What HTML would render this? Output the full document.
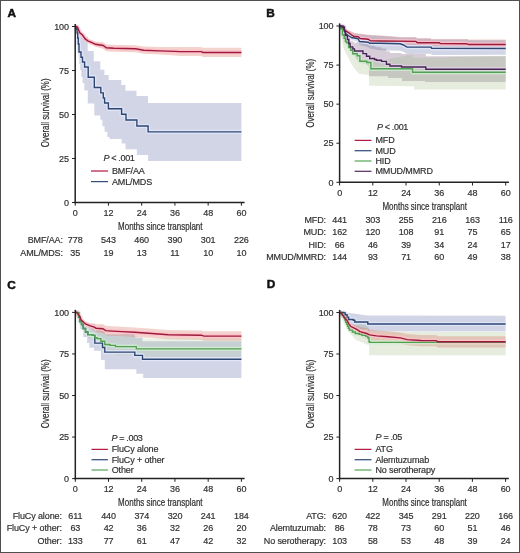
<!DOCTYPE html>
<html><head><meta charset="utf-8"><style>
html,body{margin:0;padding:0;background:#fff;}
body{width:520px;height:553px;overflow:hidden;}
svg{display:block;will-change:transform;}
.t{font-family:"Liberation Sans", sans-serif;font-size:9px;fill:#303030;letter-spacing:-0.12px;stroke:#303030;stroke-width:0.18px;}
.tt{font-family:"Liberation Sans", sans-serif;font-size:10.4px;fill:#303030;stroke:#303030;stroke-width:0.22px;}
.L{font-family:"Liberation Sans", sans-serif;font-size:11.8px;font-weight:bold;fill:#111;stroke:#111;stroke-width:0.5px;}
</style></head><body>
<svg width="520" height="553" viewBox="0 0 520 553">
<rect x="0" y="0" width="520" height="553" fill="#fff"/>
<path d="M75.20,26.50 L78.50,26.50 L78.50,31.00 L81.70,31.00 L81.70,36.50 L87.70,36.50 L87.70,51.00 L93.80,51.00 L93.80,61.20 L100.30,61.20 L100.30,69.80 L104.40,69.80 L104.40,74.90 L108.70,74.90 L108.70,80.00 L121.30,80.00 L121.30,85.00 L125.50,85.00 L125.50,90.80 L136.50,90.80 L136.50,95.90 L148.00,95.90 L148.00,103.00 L241.40,103.00 L241.40,161.00 L148.10,161.00 L148.10,155.00 L136.90,155.00 L136.90,149.30 L125.50,149.30 L125.50,143.50 L121.70,143.50 L121.70,139.00 L109.50,139.00 L109.50,137.10 L107.30,137.10 L107.30,131.70 L104.60,131.70 L104.60,126.30 L102.40,126.30 L102.40,119.80 L100.30,119.80 L100.30,115.50 L94.30,115.50 L94.30,103.50 L87.80,103.50 L87.80,90.50 L84.30,90.50 L84.30,83.00 L82.50,83.00 L82.50,77.00 L81.30,77.00 L81.30,70.00 L80.20,70.00 L80.20,64.00 L79.30,64.00 L79.30,58.00 L78.50,58.00 L78.50,51.00 L77.80,51.00 L77.80,44.00 L77.00,44.00 L77.00,36.00 L76.30,36.00 L76.30,26.50 L75.20,26.50Z" fill="rgba(105,115,170,0.30)"/>
<path d="M75.20,26.50 L77.50,27.16 L79.80,32.32 L82.50,34.12 L85.20,37.62 L87.80,39.13 L92.50,40.57 L95.50,41.79 L103.20,42.27 L106.30,44.39 L114.00,44.73 L135.60,45.16 L143.60,46.50 L159.80,47.08 L175.00,46.92 L180.00,46.99 L201.50,46.92 L202.90,47.82 L241.40,47.70 L241.40,57.00 L202.90,56.88 L201.50,55.98 L180.00,55.91 L175.00,55.58 L159.80,54.47 L143.60,53.72 L135.60,52.29 L114.00,51.63 L106.30,51.20 L103.20,48.73 L95.50,46.81 L92.50,45.03 L87.80,42.47 L85.20,40.18 L82.50,35.88 L79.80,33.28 L77.50,27.64 L75.20,26.50Z" fill="rgba(215,110,90,0.30)"/>
<path d="M75.20,26.50 L76.50,26.50 L76.50,29.00 L77.10,29.00 L77.10,33.00 L77.70,33.00 L77.70,38.00 L78.30,38.00 L78.30,44.00 L79.00,44.00 L79.00,52.00 L81.00,52.00 L81.00,57.30 L82.50,57.30 L82.50,62.00 L84.60,62.00 L84.60,67.00 L88.20,67.00 L88.20,77.20 L94.30,77.20 L94.30,87.50 L100.80,87.50 L100.80,92.90 L103.30,92.90 L103.30,98.00 L104.60,98.00 L104.60,103.00 L108.40,103.00 L108.40,108.80 L121.60,108.80 L121.60,114.30 L126.00,114.30 L126.00,120.00 L136.90,120.00 L136.90,126.00 L148.10,126.00 L148.10,131.90 L241.40,131.90" fill="none" stroke="rgba(226,233,252,0.8)" stroke-width="4.2" stroke-linejoin="round"/><path d="M75.20,26.50 L77.50,27.40 L79.80,32.80 L82.50,35.00 L85.20,38.90 L87.80,40.80 L92.50,42.80 L95.50,44.30 L103.20,45.50 L106.30,47.80 L114.00,48.20 L135.60,48.80 L143.60,50.20 L159.80,50.90 L175.00,51.40 L180.00,51.60 L201.50,51.60 L202.90,52.50 L241.40,52.50" fill="none" stroke="rgba(255,192,202,0.85)" stroke-width="4.2" stroke-linejoin="round"/><path d="M75.20,26.50 L76.50,26.50 L76.50,29.00 L77.10,29.00 L77.10,33.00 L77.70,33.00 L77.70,38.00 L78.30,38.00 L78.30,44.00 L79.00,44.00 L79.00,52.00 L81.00,52.00 L81.00,57.30 L82.50,57.30 L82.50,62.00 L84.60,62.00 L84.60,67.00 L88.20,67.00 L88.20,77.20 L94.30,77.20 L94.30,87.50 L100.80,87.50 L100.80,92.90 L103.30,92.90 L103.30,98.00 L104.60,98.00 L104.60,103.00 L108.40,103.00 L108.40,108.80 L121.60,108.80 L121.60,114.30 L126.00,114.30 L126.00,120.00 L136.90,120.00 L136.90,126.00 L148.10,126.00 L148.10,131.90 L241.40,131.90" fill="none" stroke="#2f4670" stroke-width="1.4"/><path d="M75.20,26.50 L77.50,27.40 L79.80,32.80 L82.50,35.00 L85.20,38.90 L87.80,40.80 L92.50,42.80 L95.50,44.30 L103.20,45.50 L106.30,47.80 L114.00,48.20 L135.60,48.80 L143.60,50.20 L159.80,50.90 L175.00,51.40 L180.00,51.60 L201.50,51.60 L202.90,52.50 L241.40,52.50" fill="none" stroke="#9c1a3a" stroke-width="1.4"/>
<path d="M339.60,26.00 L343.00,24.30 L343.00,25.30 L344.40,24.60 L344.40,29.00 L345.40,28.50 L345.40,32.60 L347.40,31.60 L347.40,35.60 L348.80,34.90 L348.80,38.90 L350.10,38.25 L350.10,41.65 L352.80,40.30 L352.80,42.30 L354.50,41.45 L354.50,43.55 L363.00,39.30 L363.00,41.90 L366.50,40.60 L366.50,43.30 L369.70,43.30 L369.70,45.50 L374.50,45.50 L374.50,46.50 L376.50,46.50 L376.50,47.20 L381.50,47.20 L381.50,48.40 L386.40,48.40 L386.40,51.20 L389.90,51.20 L389.90,53.00 L401.50,53.00 L401.50,54.00 L425.80,54.00 L425.80,56.20 L505.70,56.20 L505.70,81.90 L425.00,81.90 L425.00,81.00 L402.00,81.00 L402.00,78.00 L388.00,78.00 L388.00,76.20 L369.00,76.20 L369.00,66.50 L366.00,64.00 L359.00,62.50 L355.00,56.50 L352.00,53.00 L349.00,48.50 L346.00,42.00 L343.00,34.00 L339.60,26.00Z" fill="rgba(121,89,127,0.30)"/>
<path d="M339.60,26.00 L340.70,25.84 L340.70,28.54 L342.40,28.30 L342.40,34.40 L344.10,34.15 L344.10,37.55 L345.40,37.36 L345.40,40.66 L346.70,40.48 L346.70,41.88 L348.80,41.57 L348.80,46.27 L350.80,46.06 L350.80,48.76 L352.80,48.65 L352.80,52.15 L357.20,51.92 L357.20,53.82 L359.90,53.68 L359.90,59.28 L366.80,58.92 L366.80,60.12 L370.90,55.88 L370.90,62.18 L412.60,54.50 L412.60,58.00 L505.70,55.80 L505.70,89.50 L414.00,89.50 L414.00,86.30 L369.10,85.80 L369.10,75.00 L358.80,73.80 L353.90,67.80 L350.30,61.70 L347.60,56.30 L344.30,50.50 L342.60,44.00 L341.20,36.00 L339.60,26.00Z" fill="rgba(150,178,122,0.24)"/>
<path d="M339.60,26.00 L343.00,27.00 L348.00,30.00 L355.00,33.00 L369.00,34.70 L390.00,36.00 L400.00,36.90 L416.50,36.90 L416.50,38.10 L431.00,38.10 L431.00,39.00 L468.00,39.00 L468.00,39.60 L505.70,39.60 L505.70,48.80 L468.30,48.56 L466.20,47.75 L440.40,47.48 L439.20,46.68 L417.30,46.44 L416.00,45.13 L380.00,44.50 L370.30,43.46 L368.30,41.69 L360.20,40.28 L358.20,38.41 L354.20,37.76 L351.50,35.83 L348.80,33.60 L345.40,31.20 L343.40,28.03 L339.60,26.00Z" fill="rgba(215,110,90,0.30)"/>
<path d="M339.60,26.60 L343.00,27.60 L348.00,30.60 L355.00,33.60 L369.00,35.30 L390.00,36.60 L400.00,37.50 L416.50,37.50 L416.50,38.70 L431.00,38.70 L431.00,39.60 L468.00,39.60 L468.00,40.20 L505.70,40.20 L505.70,54.70 L431.70,55.07 L431.10,53.77 L407.00,53.93 L403.50,51.85 L400.00,50.67 L380.00,50.30 L369.60,48.40 L368.30,47.17 L359.50,44.95 L358.20,42.02 L355.50,40.95 L351.50,39.56 L348.10,36.97 L345.40,34.40 L344.40,31.53 L343.00,27.59 L339.60,26.00Z" fill="rgba(105,115,170,0.30)"/>
<path d="M339.60,26.00 L340.70,26.00 L340.70,28.70 L342.40,28.70 L342.40,34.80 L344.10,34.80 L344.10,38.20 L345.40,38.20 L345.40,41.50 L346.70,41.50 L346.70,42.90 L348.80,42.90 L348.80,47.60 L350.80,47.60 L350.80,50.30 L352.80,50.30 L352.80,53.80 L357.20,53.80 L357.20,55.70 L359.90,55.70 L359.90,61.30 L366.80,61.30 L366.80,62.50 L370.90,62.50 L370.90,68.80 L412.60,68.80 L412.60,72.30 L505.70,72.30" fill="none" stroke="rgba(210,238,210,0.75)" stroke-width="4.2" stroke-linejoin="round"/><path d="M339.60,26.00 L343.40,27.70 L345.40,30.70 L348.80,32.80 L351.50,34.80 L354.20,36.50 L358.20,36.80 L360.20,38.50 L368.30,39.20 L370.30,40.80 L380.00,41.00 L416.00,41.40 L417.30,42.70 L439.20,42.80 L440.40,43.60 L466.20,43.70 L468.30,44.50 L505.70,44.50" fill="none" stroke="rgba(255,192,202,0.85)" stroke-width="4.2" stroke-linejoin="round"/><path d="M339.60,26.00 L343.00,27.00 L344.40,30.70 L345.40,33.40 L348.10,35.50 L351.50,37.50 L355.50,38.20 L358.20,38.80 L359.50,41.50 L368.30,42.20 L369.60,43.20 L380.00,43.30 L400.00,43.80 L403.50,45.00 L407.00,47.10 L431.10,47.10 L431.70,48.40 L505.70,48.50" fill="none" stroke="rgba(226,233,252,0.8)" stroke-width="4.2" stroke-linejoin="round"/><path d="M339.60,26.00 L343.00,26.00 L343.00,27.00 L344.40,27.00 L344.40,31.40 L345.40,31.40 L345.40,35.50 L347.40,35.50 L347.40,39.50 L348.80,39.50 L348.80,43.50 L350.10,43.50 L350.10,46.90 L352.80,46.90 L352.80,48.90 L354.50,48.90 L354.50,51.00 L363.00,51.00 L363.00,53.60 L366.50,53.60 L366.50,56.30 L369.70,56.30 L369.70,58.50 L374.50,58.50 L374.50,59.50 L376.50,59.50 L376.50,60.20 L381.50,60.20 L381.50,61.40 L386.40,61.40 L386.40,64.20 L389.90,64.20 L389.90,66.00 L401.50,66.00 L401.50,67.00 L425.80,67.00 L425.80,69.20 L505.70,69.20" fill="none" stroke="rgba(228,210,236,0.75)" stroke-width="4.2" stroke-linejoin="round"/><path d="M339.60,26.00 L340.70,26.00 L340.70,28.70 L342.40,28.70 L342.40,34.80 L344.10,34.80 L344.10,38.20 L345.40,38.20 L345.40,41.50 L346.70,41.50 L346.70,42.90 L348.80,42.90 L348.80,47.60 L350.80,47.60 L350.80,50.30 L352.80,50.30 L352.80,53.80 L357.20,53.80 L357.20,55.70 L359.90,55.70 L359.90,61.30 L366.80,61.30 L366.80,62.50 L370.90,62.50 L370.90,68.80 L412.60,68.80 L412.60,72.30 L505.70,72.30" fill="none" stroke="#52a052" stroke-width="1.4"/><path d="M339.60,26.00 L343.40,27.70 L345.40,30.70 L348.80,32.80 L351.50,34.80 L354.20,36.50 L358.20,36.80 L360.20,38.50 L368.30,39.20 L370.30,40.80 L380.00,41.00 L416.00,41.40 L417.30,42.70 L439.20,42.80 L440.40,43.60 L466.20,43.70 L468.30,44.50 L505.70,44.50" fill="none" stroke="#9c1a3a" stroke-width="1.4"/><path d="M339.60,26.00 L343.00,27.00 L344.40,30.70 L345.40,33.40 L348.10,35.50 L351.50,37.50 L355.50,38.20 L358.20,38.80 L359.50,41.50 L368.30,42.20 L369.60,43.20 L380.00,43.30 L400.00,43.80 L403.50,45.00 L407.00,47.10 L431.10,47.10 L431.70,48.40 L505.70,48.50" fill="none" stroke="#2f4670" stroke-width="1.4"/><path d="M339.60,26.00 L343.00,26.00 L343.00,27.00 L344.40,27.00 L344.40,31.40 L345.40,31.40 L345.40,35.50 L347.40,35.50 L347.40,39.50 L348.80,39.50 L348.80,43.50 L350.10,43.50 L350.10,46.90 L352.80,46.90 L352.80,48.90 L354.50,48.90 L354.50,51.00 L363.00,51.00 L363.00,53.60 L366.50,53.60 L366.50,56.30 L369.70,56.30 L369.70,58.50 L374.50,58.50 L374.50,59.50 L376.50,59.50 L376.50,60.20 L381.50,60.20 L381.50,61.40 L386.40,61.40 L386.40,64.20 L389.90,64.20 L389.90,66.00 L401.50,66.00 L401.50,67.00 L425.80,67.00 L425.80,69.20 L505.70,69.20" fill="none" stroke="#452650" stroke-width="1.4"/>
<path d="M75.30,312.40 L76.90,311.44 L76.90,311.64 L78.60,310.62 L78.60,315.02 L79.80,314.30 L79.80,318.80 L81.50,317.78 L81.50,320.78 L83.20,319.76 L83.20,323.76 L85.50,322.38 L85.50,325.88 L87.80,324.50 L87.80,327.10 L92.50,324.28 L92.50,325.08 L94.80,323.70 L94.80,331.40 L100.90,327.74 L100.90,327.74 L102.50,326.78 L102.50,331.18 L104.80,329.80 L104.80,334.40 L134.80,334.10 L134.80,337.40 L142.50,337.40 L142.50,341.20 L241.40,341.20 L241.40,378.00 L143.20,378.00 L143.20,373.80 L136.30,373.80 L136.30,369.20 L104.80,369.20 L104.80,360.00 L100.90,360.00 L100.90,350.80 L94.00,350.80 L94.00,347.70 L89.40,347.70 L89.40,343.10 L87.10,343.10 L87.10,336.90 L83.20,336.90 L83.20,329.20 L80.20,329.20 L80.20,322.00 L78.00,322.00 L78.00,316.00 L76.50,316.00 L76.50,312.40 L75.30,312.40Z" fill="rgba(105,115,170,0.30)"/>
<path d="M75.30,312.40 L76.90,311.85 L76.90,312.05 L78.60,311.47 L78.60,315.87 L79.80,315.45 L79.80,319.95 L81.50,319.37 L81.50,322.37 L83.20,321.79 L83.20,325.79 L85.50,325.00 L85.50,328.50 L87.80,327.71 L87.80,330.31 L92.50,328.69 L92.50,329.49 L94.80,328.70 L94.80,331.11 L97.10,330.32 L97.10,331.12 L100.90,329.81 L100.90,332.51 L104.80,331.17 L104.80,334.37 L110.00,334.20 L110.00,335.10 L115.50,335.10 L115.50,336.30 L136.30,336.30 L136.30,338.60 L241.40,338.60 L241.40,357.50 L136.30,357.50 L136.30,355.20 L115.50,355.20 L115.50,354.00 L110.00,354.00 L110.00,353.10 L104.80,352.96 L104.80,349.76 L100.90,348.64 L100.90,345.94 L97.10,344.85 L97.10,344.05 L94.80,343.39 L94.80,340.99 L92.50,340.33 L92.50,339.53 L87.80,338.18 L87.80,335.58 L85.50,334.92 L85.50,331.42 L83.20,330.76 L83.20,326.76 L81.50,326.28 L81.50,323.28 L79.80,322.79 L79.80,318.29 L78.60,317.95 L78.60,313.55 L76.90,313.06 L76.90,312.86 L75.30,312.40Z" fill="rgba(150,185,130,0.19)"/>
<path d="M75.30,312.40 L76.90,312.19 L79.80,315.84 L81.20,318.87 L85.50,321.94 L90.30,322.92 L94.20,323.57 L96.10,324.21 L102.80,323.90 L105.70,325.80 L112.50,326.30 L122.10,326.80 L134.60,327.50 L151.90,328.70 L168.30,329.90 L201.20,330.40 L204.00,331.30 L241.40,331.30 L241.40,340.70 L204.00,340.70 L201.20,339.80 L168.30,339.30 L151.90,338.10 L134.60,336.90 L122.10,336.20 L112.50,335.70 L105.70,335.20 L102.80,333.30 L96.10,332.03 L94.20,330.68 L90.30,328.56 L85.50,325.78 L81.20,321.09 L79.80,317.53 L76.90,312.79 L75.30,312.40Z" fill="rgba(215,110,90,0.30)"/>
<path d="M75.30,312.40 L76.90,312.40 L76.90,312.60 L78.60,312.60 L78.60,317.00 L79.80,317.00 L79.80,321.50 L81.50,321.50 L81.50,324.50 L83.20,324.50 L83.20,328.50 L85.50,328.50 L85.50,332.00 L87.80,332.00 L87.80,334.60 L92.50,334.60 L92.50,335.40 L94.80,335.40 L94.80,343.10 L100.90,343.10 L100.90,343.10 L102.50,343.10 L102.50,347.50 L104.80,347.50 L104.80,352.10 L134.80,352.10 L134.80,355.40 L142.50,355.40 L142.50,359.20 L241.40,359.20" fill="none" stroke="rgba(226,233,252,0.8)" stroke-width="4.2" stroke-linejoin="round"/><path d="M75.30,312.40 L76.90,312.40 L76.90,312.60 L78.60,312.60 L78.60,317.00 L79.80,317.00 L79.80,321.50 L81.50,321.50 L81.50,324.50 L83.20,324.50 L83.20,328.50 L85.50,328.50 L85.50,332.00 L87.80,332.00 L87.80,334.60 L92.50,334.60 L92.50,335.40 L94.80,335.40 L94.80,337.80 L97.10,337.80 L97.10,338.60 L100.90,338.60 L100.90,341.30 L104.80,341.30 L104.80,344.50 L110.00,344.50 L110.00,345.40 L115.50,345.40 L115.50,346.60 L136.30,346.60 L136.30,348.90 L241.40,348.90" fill="none" stroke="rgba(210,238,210,0.75)" stroke-width="4.2" stroke-linejoin="round"/><path d="M75.30,312.40 L76.90,312.50 L79.80,316.70 L81.20,320.00 L85.50,323.90 L90.30,325.80 L94.20,327.20 L96.10,328.20 L102.80,328.70 L105.70,330.60 L112.50,331.10 L122.10,331.60 L134.60,332.30 L151.90,333.50 L168.30,334.70 L201.20,335.20 L204.00,336.10 L241.40,336.10" fill="none" stroke="rgba(255,192,202,0.85)" stroke-width="4.2" stroke-linejoin="round"/><path d="M75.30,312.40 L76.90,312.40 L76.90,312.60 L78.60,312.60 L78.60,317.00 L79.80,317.00 L79.80,321.50 L81.50,321.50 L81.50,324.50 L83.20,324.50 L83.20,328.50 L85.50,328.50 L85.50,332.00 L87.80,332.00 L87.80,334.60 L92.50,334.60 L92.50,335.40 L94.80,335.40 L94.80,343.10 L100.90,343.10 L100.90,343.10 L102.50,343.10 L102.50,347.50 L104.80,347.50 L104.80,352.10 L134.80,352.10 L134.80,355.40 L142.50,355.40 L142.50,359.20 L241.40,359.20" fill="none" stroke="#2f4670" stroke-width="1.4"/><path d="M75.30,312.40 L76.90,312.40 L76.90,312.60 L78.60,312.60 L78.60,317.00 L79.80,317.00 L79.80,321.50 L81.50,321.50 L81.50,324.50 L83.20,324.50 L83.20,328.50 L85.50,328.50 L85.50,332.00 L87.80,332.00 L87.80,334.60 L92.50,334.60 L92.50,335.40 L94.80,335.40 L94.80,337.80 L97.10,337.80 L97.10,338.60 L100.90,338.60 L100.90,341.30 L104.80,341.30 L104.80,344.50 L110.00,344.50 L110.00,345.40 L115.50,345.40 L115.50,346.60 L136.30,346.60 L136.30,348.90 L241.40,348.90" fill="none" stroke="#52a052" stroke-width="1.4"/><path d="M75.30,312.40 L76.90,312.50 L79.80,316.70 L81.20,320.00 L85.50,323.90 L90.30,325.80 L94.20,327.20 L96.10,328.20 L102.80,328.70 L105.70,330.60 L112.50,331.10 L122.10,331.60 L134.60,332.30 L151.90,333.50 L168.30,334.70 L201.20,335.20 L204.00,336.10 L241.40,336.10" fill="none" stroke="#9c1a3a" stroke-width="1.4"/>
<path d="M339.60,312.50 L340.90,311.85 L340.90,313.15 L342.30,312.45 L342.30,314.15 L343.80,313.40 L343.80,315.50 L344.80,315.00 L344.80,317.40 L345.70,316.95 L345.70,319.35 L346.70,318.85 L346.70,320.85 L347.60,320.40 L347.60,322.30 L348.50,321.85 L348.50,323.75 L349.50,323.25 L349.50,325.15 L352.40,323.70 L352.40,325.60 L355.30,324.15 L355.30,325.65 L359.20,323.70 L359.20,324.60 L362.00,324.00 L362.00,325.00 L365.90,325.00 L365.90,326.00 L367.80,326.00 L367.80,327.40 L369.00,327.40 L369.00,331.30 L369.70,331.30 L369.70,332.00 L505.60,332.00 L505.60,355.20 L369.10,355.20 L369.10,344.80 L367.40,344.80 L355.30,339.60 L348.40,331.00 L343.00,320.00 L339.60,312.50Z" fill="rgba(150,178,122,0.24)"/>
<path d="M339.60,312.50 L348.40,312.80 L367.40,315.40 L505.60,315.70 L505.60,331.50 L367.80,331.50 L367.80,329.50 L354.80,329.50 L354.80,327.70 L353.40,327.10 L353.40,326.40 L348.60,324.00 L348.60,321.60 L347.10,320.85 L347.10,318.45 L345.20,317.50 L345.20,315.70 L343.80,315.00 L343.80,314.60 L339.60,312.50Z" fill="rgba(105,115,170,0.30)"/>
<path d="M339.60,312.50 L340.90,312.51 L342.30,313.91 L343.80,315.78 L346.70,318.44 L348.60,321.42 L350.50,323.90 L354.30,324.97 L357.20,325.73 L360.10,327.09 L366.80,328.00 L369.70,329.40 L376.50,330.40 L388.00,331.30 L400.30,332.40 L407.20,334.10 L421.00,335.00 L436.00,335.10 L438.00,336.20 L505.60,336.20 L505.60,347.40 L438.00,347.40 L436.00,346.30 L421.00,346.20 L407.20,345.30 L400.30,343.60 L388.00,342.50 L376.50,341.60 L369.70,340.60 L366.80,339.20 L360.10,336.27 L357.20,333.61 L354.30,331.55 L350.50,328.79 L348.60,325.45 L346.70,321.62 L343.80,317.66 L342.30,315.12 L340.90,313.10 L339.60,312.50Z" fill="rgba(215,110,90,0.30)"/>
<path d="M339.60,312.50 L343.80,312.50 L343.80,312.90 L345.20,312.90 L345.20,314.70 L347.10,314.70 L347.10,317.10 L348.60,317.10 L348.60,319.50 L353.40,319.50 L353.40,320.20 L354.80,320.20 L354.80,322.00 L367.80,322.00 L367.80,324.00 L505.60,324.00" fill="none" stroke="rgba(226,233,252,0.8)" stroke-width="4.2" stroke-linejoin="round"/><path d="M339.60,312.50 L340.90,312.50 L340.90,313.80 L342.30,313.80 L342.30,315.50 L343.80,315.50 L343.80,317.60 L344.80,317.60 L344.80,320.00 L345.70,320.00 L345.70,322.40 L346.70,322.40 L346.70,324.40 L347.60,324.40 L347.60,326.30 L348.50,326.30 L348.50,328.20 L349.50,328.20 L349.50,330.10 L352.40,330.10 L352.40,332.00 L355.30,332.00 L355.30,333.50 L359.20,333.50 L359.20,334.40 L362.00,334.40 L362.00,335.40 L365.90,335.40 L365.90,336.40 L367.80,336.40 L367.80,337.80 L369.00,337.80 L369.00,341.70 L369.70,341.70 L369.70,342.40 L505.60,342.40" fill="none" stroke="rgba(210,238,210,0.75)" stroke-width="4.2" stroke-linejoin="round"/><path d="M339.60,312.50 L340.90,312.80 L342.30,314.50 L343.80,316.70 L346.70,320.00 L348.60,323.40 L350.50,326.30 L354.30,328.20 L357.20,329.60 L360.10,331.60 L366.80,333.50 L369.70,334.90 L376.50,335.90 L388.00,336.80 L400.30,337.90 L407.20,339.60 L421.00,340.50 L436.00,340.60 L438.00,341.70 L505.60,341.70" fill="none" stroke="rgba(255,192,202,0.85)" stroke-width="4.2" stroke-linejoin="round"/><path d="M339.60,312.50 L343.80,312.50 L343.80,312.90 L345.20,312.90 L345.20,314.70 L347.10,314.70 L347.10,317.10 L348.60,317.10 L348.60,319.50 L353.40,319.50 L353.40,320.20 L354.80,320.20 L354.80,322.00 L367.80,322.00 L367.80,324.00 L505.60,324.00" fill="none" stroke="#2f4670" stroke-width="1.4"/><path d="M339.60,312.50 L340.90,312.50 L340.90,313.80 L342.30,313.80 L342.30,315.50 L343.80,315.50 L343.80,317.60 L344.80,317.60 L344.80,320.00 L345.70,320.00 L345.70,322.40 L346.70,322.40 L346.70,324.40 L347.60,324.40 L347.60,326.30 L348.50,326.30 L348.50,328.20 L349.50,328.20 L349.50,330.10 L352.40,330.10 L352.40,332.00 L355.30,332.00 L355.30,333.50 L359.20,333.50 L359.20,334.40 L362.00,334.40 L362.00,335.40 L365.90,335.40 L365.90,336.40 L367.80,336.40 L367.80,337.80 L369.00,337.80 L369.00,341.70 L369.70,341.70 L369.70,342.40 L505.60,342.40" fill="none" stroke="#52a052" stroke-width="1.4"/><path d="M339.60,312.50 L340.90,312.80 L342.30,314.50 L343.80,316.70 L346.70,320.00 L348.60,323.40 L350.50,326.30 L354.30,328.20 L357.20,329.60 L360.10,331.60 L366.80,333.50 L369.70,334.90 L376.50,335.90 L388.00,336.80 L400.30,337.90 L407.20,339.60 L421.00,340.50 L436.00,340.60 L438.00,341.70 L505.60,341.70" fill="none" stroke="#9c1a3a" stroke-width="1.4"/>
<line x1="75.2" y1="23.9" x2="75.2" y2="203.3" stroke="#222" stroke-width="1.5"/>
<line x1="74.5" y1="202.5" x2="244.6" y2="202.5" stroke="#222" stroke-width="1.5"/>
<line x1="72.0" y1="202.50" x2="75.2" y2="202.50" stroke="#222" stroke-width="1"/>
<line x1="72.0" y1="158.50" x2="75.2" y2="158.50" stroke="#222" stroke-width="1"/>
<line x1="72.0" y1="114.50" x2="75.2" y2="114.50" stroke="#222" stroke-width="1"/>
<line x1="72.0" y1="70.50" x2="75.2" y2="70.50" stroke="#222" stroke-width="1"/>
<line x1="72.0" y1="26.50" x2="75.2" y2="26.50" stroke="#222" stroke-width="1"/>
<line x1="75.20" y1="202.5" x2="75.20" y2="205.7" stroke="#222" stroke-width="1"/>
<line x1="108.44" y1="202.5" x2="108.44" y2="205.7" stroke="#222" stroke-width="1"/>
<line x1="141.68" y1="202.5" x2="141.68" y2="205.7" stroke="#222" stroke-width="1"/>
<line x1="174.92" y1="202.5" x2="174.92" y2="205.7" stroke="#222" stroke-width="1"/>
<line x1="208.16" y1="202.5" x2="208.16" y2="205.7" stroke="#222" stroke-width="1"/>
<line x1="241.40" y1="202.5" x2="241.40" y2="205.7" stroke="#222" stroke-width="1"/>
<line x1="339.6" y1="23.4" x2="339.6" y2="183.10000000000002" stroke="#222" stroke-width="1.5"/>
<line x1="338.90000000000003" y1="182.3" x2="508.9" y2="182.3" stroke="#222" stroke-width="1.5"/>
<line x1="336.40000000000003" y1="182.30" x2="339.6" y2="182.30" stroke="#222" stroke-width="1"/>
<line x1="336.40000000000003" y1="143.23" x2="339.6" y2="143.23" stroke="#222" stroke-width="1"/>
<line x1="336.40000000000003" y1="104.15" x2="339.6" y2="104.15" stroke="#222" stroke-width="1"/>
<line x1="336.40000000000003" y1="65.08" x2="339.6" y2="65.08" stroke="#222" stroke-width="1"/>
<line x1="336.40000000000003" y1="26.00" x2="339.6" y2="26.00" stroke="#222" stroke-width="1"/>
<line x1="339.60" y1="182.3" x2="339.60" y2="185.5" stroke="#222" stroke-width="1"/>
<line x1="372.82" y1="182.3" x2="372.82" y2="185.5" stroke="#222" stroke-width="1"/>
<line x1="406.04" y1="182.3" x2="406.04" y2="185.5" stroke="#222" stroke-width="1"/>
<line x1="439.26" y1="182.3" x2="439.26" y2="185.5" stroke="#222" stroke-width="1"/>
<line x1="472.48" y1="182.3" x2="472.48" y2="185.5" stroke="#222" stroke-width="1"/>
<line x1="505.70" y1="182.3" x2="505.70" y2="185.5" stroke="#222" stroke-width="1"/>
<line x1="75.3" y1="309.79999999999995" x2="75.3" y2="479.40000000000003" stroke="#222" stroke-width="1.5"/>
<line x1="74.6" y1="478.6" x2="244.6" y2="478.6" stroke="#222" stroke-width="1.5"/>
<line x1="72.1" y1="478.60" x2="75.3" y2="478.60" stroke="#222" stroke-width="1"/>
<line x1="72.1" y1="437.05" x2="75.3" y2="437.05" stroke="#222" stroke-width="1"/>
<line x1="72.1" y1="395.50" x2="75.3" y2="395.50" stroke="#222" stroke-width="1"/>
<line x1="72.1" y1="353.95" x2="75.3" y2="353.95" stroke="#222" stroke-width="1"/>
<line x1="72.1" y1="312.40" x2="75.3" y2="312.40" stroke="#222" stroke-width="1"/>
<line x1="75.30" y1="478.6" x2="75.30" y2="481.8" stroke="#222" stroke-width="1"/>
<line x1="108.52" y1="478.6" x2="108.52" y2="481.8" stroke="#222" stroke-width="1"/>
<line x1="141.74" y1="478.6" x2="141.74" y2="481.8" stroke="#222" stroke-width="1"/>
<line x1="174.96" y1="478.6" x2="174.96" y2="481.8" stroke="#222" stroke-width="1"/>
<line x1="208.18" y1="478.6" x2="208.18" y2="481.8" stroke="#222" stroke-width="1"/>
<line x1="241.40" y1="478.6" x2="241.40" y2="481.8" stroke="#222" stroke-width="1"/>
<line x1="339.6" y1="309.9" x2="339.6" y2="479.40000000000003" stroke="#222" stroke-width="1.5"/>
<line x1="338.90000000000003" y1="478.6" x2="508.8" y2="478.6" stroke="#222" stroke-width="1.5"/>
<line x1="336.40000000000003" y1="478.60" x2="339.6" y2="478.60" stroke="#222" stroke-width="1"/>
<line x1="336.40000000000003" y1="437.08" x2="339.6" y2="437.08" stroke="#222" stroke-width="1"/>
<line x1="336.40000000000003" y1="395.55" x2="339.6" y2="395.55" stroke="#222" stroke-width="1"/>
<line x1="336.40000000000003" y1="354.02" x2="339.6" y2="354.02" stroke="#222" stroke-width="1"/>
<line x1="336.40000000000003" y1="312.50" x2="339.6" y2="312.50" stroke="#222" stroke-width="1"/>
<line x1="339.60" y1="478.6" x2="339.60" y2="481.8" stroke="#222" stroke-width="1"/>
<line x1="372.80" y1="478.6" x2="372.80" y2="481.8" stroke="#222" stroke-width="1"/>
<line x1="406.00" y1="478.6" x2="406.00" y2="481.8" stroke="#222" stroke-width="1"/>
<line x1="439.20" y1="478.6" x2="439.20" y2="481.8" stroke="#222" stroke-width="1"/>
<line x1="472.40" y1="478.6" x2="472.40" y2="481.8" stroke="#222" stroke-width="1"/>
<line x1="505.60" y1="478.6" x2="505.60" y2="481.8" stroke="#222" stroke-width="1"/>

<text x="68.90" y="205.70" text-anchor="end" class="t">0</text>
<text x="68.90" y="161.70" text-anchor="end" class="t">25</text>
<text x="68.90" y="117.70" text-anchor="end" class="t">50</text>
<text x="68.90" y="73.70" text-anchor="end" class="t">75</text>
<text x="68.90" y="29.70" text-anchor="end" class="t">100</text>
<text x="75.20" y="215.70" text-anchor="middle" class="t">0</text>
<text x="108.44" y="215.70" text-anchor="middle" class="t">12</text>
<text x="141.68" y="215.70" text-anchor="middle" class="t">24</text>
<text x="174.92" y="215.70" text-anchor="middle" class="t">36</text>
<text x="208.16" y="215.70" text-anchor="middle" class="t">48</text>
<text x="241.40" y="215.70" text-anchor="middle" class="t">60</text>
<text x="160.30" y="230.00" text-anchor="middle" class="tt" textLength="84.5" lengthAdjust="spacingAndGlyphs">Months since transplant</text>
<text transform="translate(49.30,112.80) rotate(-90)" x="0" y="0" text-anchor="middle" class="tt" textLength="68.7" lengthAdjust="spacingAndGlyphs">Overall survival (%)</text>
<text x="333.30" y="185.50" text-anchor="end" class="t">0</text>
<text x="333.30" y="146.43" text-anchor="end" class="t">25</text>
<text x="333.30" y="107.35" text-anchor="end" class="t">50</text>
<text x="333.30" y="68.28" text-anchor="end" class="t">75</text>
<text x="333.30" y="29.20" text-anchor="end" class="t">100</text>
<text x="339.60" y="195.50" text-anchor="middle" class="t">0</text>
<text x="372.82" y="195.50" text-anchor="middle" class="t">12</text>
<text x="406.04" y="195.50" text-anchor="middle" class="t">24</text>
<text x="439.26" y="195.50" text-anchor="middle" class="t">36</text>
<text x="472.48" y="195.50" text-anchor="middle" class="t">48</text>
<text x="505.70" y="195.50" text-anchor="middle" class="t">60</text>
<text x="424.65" y="209.80" text-anchor="middle" class="tt" textLength="84.5" lengthAdjust="spacingAndGlyphs">Months since transplant</text>
<text transform="translate(313.70,93.20) rotate(-90)" x="0" y="0" text-anchor="middle" class="tt" textLength="68.7" lengthAdjust="spacingAndGlyphs">Overall survival (%)</text>
<text x="69.00" y="481.80" text-anchor="end" class="t">0</text>
<text x="69.00" y="440.25" text-anchor="end" class="t">25</text>
<text x="69.00" y="398.70" text-anchor="end" class="t">50</text>
<text x="69.00" y="357.15" text-anchor="end" class="t">75</text>
<text x="69.00" y="315.60" text-anchor="end" class="t">100</text>
<text x="75.30" y="491.80" text-anchor="middle" class="t">0</text>
<text x="108.52" y="491.80" text-anchor="middle" class="t">12</text>
<text x="141.74" y="491.80" text-anchor="middle" class="t">24</text>
<text x="174.96" y="491.80" text-anchor="middle" class="t">36</text>
<text x="208.18" y="491.80" text-anchor="middle" class="t">48</text>
<text x="241.40" y="491.80" text-anchor="middle" class="t">60</text>
<text x="160.35" y="506.10" text-anchor="middle" class="tt" textLength="84.5" lengthAdjust="spacingAndGlyphs">Months since transplant</text>
<text transform="translate(49.40,393.80) rotate(-90)" x="0" y="0" text-anchor="middle" class="tt" textLength="68.7" lengthAdjust="spacingAndGlyphs">Overall survival (%)</text>
<text x="333.30" y="481.80" text-anchor="end" class="t">0</text>
<text x="333.30" y="440.28" text-anchor="end" class="t">25</text>
<text x="333.30" y="398.75" text-anchor="end" class="t">50</text>
<text x="333.30" y="357.22" text-anchor="end" class="t">75</text>
<text x="333.30" y="315.70" text-anchor="end" class="t">100</text>
<text x="339.60" y="491.80" text-anchor="middle" class="t">0</text>
<text x="372.80" y="491.80" text-anchor="middle" class="t">12</text>
<text x="406.00" y="491.80" text-anchor="middle" class="t">24</text>
<text x="439.20" y="491.80" text-anchor="middle" class="t">36</text>
<text x="472.40" y="491.80" text-anchor="middle" class="t">48</text>
<text x="505.60" y="491.80" text-anchor="middle" class="t">60</text>
<text x="424.60" y="506.10" text-anchor="middle" class="tt" textLength="84.5" lengthAdjust="spacingAndGlyphs">Months since transplant</text>
<text transform="translate(313.70,393.85) rotate(-90)" x="0" y="0" text-anchor="middle" class="tt" textLength="68.7" lengthAdjust="spacingAndGlyphs">Overall survival (%)</text>

<text x="103.5" y="161.4" class="t" style="letter-spacing:-0.35px"><tspan font-style="italic">P</tspan> &lt; .001</text>
<line x1="91" y1="171.00" x2="108.1" y2="171.00" stroke="#b41d40" stroke-width="1.25"/>
<text x="111.9" y="174.00" class="t">BMF/AA</text>
<line x1="91" y1="181.60" x2="108.1" y2="181.60" stroke="#33507a" stroke-width="1.25"/>
<text x="111.9" y="184.60" class="t">AML/MDS</text>
<text x="377.0" y="130.4" class="t" style="letter-spacing:-0.35px"><tspan font-style="italic">P</tspan> &lt; .001</text>
<line x1="354.6" y1="140.40" x2="371.5" y2="140.40" stroke="#b41d40" stroke-width="1.25"/>
<text x="375.4" y="143.40" class="t">MFD</text>
<line x1="354.6" y1="150.70" x2="371.5" y2="150.70" stroke="#33507a" stroke-width="1.25"/>
<text x="375.4" y="153.70" class="t">MUD</text>
<line x1="354.6" y1="161.00" x2="371.5" y2="161.00" stroke="#5aa85a" stroke-width="1.25"/>
<text x="375.4" y="164.00" class="t">HID</text>
<line x1="354.6" y1="171.30" x2="371.5" y2="171.30" stroke="#5a3466" stroke-width="1.25"/>
<text x="375.4" y="174.30" class="t">MMUD/MMRD</text>
<text x="111.5" y="440.8" class="t" style="letter-spacing:-0.35px"><tspan font-style="italic">P</tspan> = .003</text>
<line x1="91.5" y1="449.40" x2="107.9" y2="449.40" stroke="#b41d40" stroke-width="1.25"/>
<text x="111.7" y="452.40" class="t">FluCy alone</text>
<line x1="91.5" y1="459.70" x2="107.9" y2="459.70" stroke="#33507a" stroke-width="1.25"/>
<text x="111.7" y="462.70" class="t">FluCy + other</text>
<line x1="91.5" y1="470.00" x2="107.9" y2="470.00" stroke="#5aa85a" stroke-width="1.25"/>
<text x="111.7" y="473.00" class="t">Other</text>
<text x="375.6" y="439.8" class="t" style="letter-spacing:-0.35px"><tspan font-style="italic">P</tspan> = .05</text>
<line x1="354.6" y1="449.40" x2="371.5" y2="449.40" stroke="#b41d40" stroke-width="1.25"/>
<text x="375.4" y="452.40" class="t">ATG</text>
<line x1="354.6" y1="459.70" x2="371.5" y2="459.70" stroke="#33507a" stroke-width="1.25"/>
<text x="375.4" y="462.70" class="t">Alemtuzumab</text>
<line x1="354.6" y1="470.00" x2="371.5" y2="470.00" stroke="#5aa85a" stroke-width="1.25"/>
<text x="375.4" y="473.00" class="t">No serotherapy</text>
<text x="62.8" y="243.30" text-anchor="end" class="t">BMF/AA:</text>
<text x="75.20" y="243.30" text-anchor="middle" class="t">778</text>
<text x="108.44" y="243.30" text-anchor="middle" class="t">543</text>
<text x="141.68" y="243.30" text-anchor="middle" class="t">460</text>
<text x="174.92" y="243.30" text-anchor="middle" class="t">390</text>
<text x="208.16" y="243.30" text-anchor="middle" class="t">301</text>
<text x="241.40" y="243.30" text-anchor="middle" class="t">226</text>
<text x="62.8" y="255.70" text-anchor="end" class="t">AML/MDS:</text>
<text x="75.20" y="255.70" text-anchor="middle" class="t">35</text>
<text x="108.44" y="255.70" text-anchor="middle" class="t">19</text>
<text x="141.68" y="255.70" text-anchor="middle" class="t">13</text>
<text x="174.92" y="255.70" text-anchor="middle" class="t">11</text>
<text x="208.16" y="255.70" text-anchor="middle" class="t">10</text>
<text x="241.40" y="255.70" text-anchor="middle" class="t">10</text>
<text x="326.0" y="222.50" text-anchor="end" class="t">MFD:</text>
<text x="339.60" y="222.50" text-anchor="middle" class="t">441</text>
<text x="372.82" y="222.50" text-anchor="middle" class="t">303</text>
<text x="406.04" y="222.50" text-anchor="middle" class="t">255</text>
<text x="439.26" y="222.50" text-anchor="middle" class="t">216</text>
<text x="472.48" y="222.50" text-anchor="middle" class="t">163</text>
<text x="505.70" y="222.50" text-anchor="middle" class="t">116</text>
<text x="326.0" y="235.00" text-anchor="end" class="t">MUD:</text>
<text x="339.60" y="235.00" text-anchor="middle" class="t">162</text>
<text x="372.82" y="235.00" text-anchor="middle" class="t">120</text>
<text x="406.04" y="235.00" text-anchor="middle" class="t">108</text>
<text x="439.26" y="235.00" text-anchor="middle" class="t">91</text>
<text x="472.48" y="235.00" text-anchor="middle" class="t">75</text>
<text x="505.70" y="235.00" text-anchor="middle" class="t">65</text>
<text x="326.0" y="247.50" text-anchor="end" class="t">HID:</text>
<text x="339.60" y="247.50" text-anchor="middle" class="t">66</text>
<text x="372.82" y="247.50" text-anchor="middle" class="t">46</text>
<text x="406.04" y="247.50" text-anchor="middle" class="t">39</text>
<text x="439.26" y="247.50" text-anchor="middle" class="t">34</text>
<text x="472.48" y="247.50" text-anchor="middle" class="t">24</text>
<text x="505.70" y="247.50" text-anchor="middle" class="t">17</text>
<text x="326.0" y="260.00" text-anchor="end" class="t">MMUD/MMRD:</text>
<text x="339.60" y="260.00" text-anchor="middle" class="t">144</text>
<text x="372.82" y="260.00" text-anchor="middle" class="t">93</text>
<text x="406.04" y="260.00" text-anchor="middle" class="t">71</text>
<text x="439.26" y="260.00" text-anchor="middle" class="t">60</text>
<text x="472.48" y="260.00" text-anchor="middle" class="t">49</text>
<text x="505.70" y="260.00" text-anchor="middle" class="t">38</text>
<text x="61.8" y="519.30" text-anchor="end" class="t">FluCy alone:</text>
<text x="75.30" y="519.30" text-anchor="middle" class="t">611</text>
<text x="108.52" y="519.30" text-anchor="middle" class="t">440</text>
<text x="141.74" y="519.30" text-anchor="middle" class="t">374</text>
<text x="174.96" y="519.30" text-anchor="middle" class="t">320</text>
<text x="208.18" y="519.30" text-anchor="middle" class="t">241</text>
<text x="241.40" y="519.30" text-anchor="middle" class="t">184</text>
<text x="61.8" y="531.40" text-anchor="end" class="t">FluCy + other:</text>
<text x="75.30" y="531.40" text-anchor="middle" class="t">63</text>
<text x="108.52" y="531.40" text-anchor="middle" class="t">42</text>
<text x="141.74" y="531.40" text-anchor="middle" class="t">36</text>
<text x="174.96" y="531.40" text-anchor="middle" class="t">32</text>
<text x="208.18" y="531.40" text-anchor="middle" class="t">26</text>
<text x="241.40" y="531.40" text-anchor="middle" class="t">20</text>
<text x="61.8" y="543.50" text-anchor="end" class="t">Other:</text>
<text x="75.30" y="543.50" text-anchor="middle" class="t">133</text>
<text x="108.52" y="543.50" text-anchor="middle" class="t">77</text>
<text x="141.74" y="543.50" text-anchor="middle" class="t">61</text>
<text x="174.96" y="543.50" text-anchor="middle" class="t">47</text>
<text x="208.18" y="543.50" text-anchor="middle" class="t">42</text>
<text x="241.40" y="543.50" text-anchor="middle" class="t">32</text>
<text x="326.0" y="519.30" text-anchor="end" class="t">ATG:</text>
<text x="339.60" y="519.30" text-anchor="middle" class="t">620</text>
<text x="372.80" y="519.30" text-anchor="middle" class="t">422</text>
<text x="406.00" y="519.30" text-anchor="middle" class="t">345</text>
<text x="439.20" y="519.30" text-anchor="middle" class="t">291</text>
<text x="472.40" y="519.30" text-anchor="middle" class="t">220</text>
<text x="505.60" y="519.30" text-anchor="middle" class="t">166</text>
<text x="326.0" y="531.40" text-anchor="end" class="t">Alemtuzumab:</text>
<text x="339.60" y="531.40" text-anchor="middle" class="t">86</text>
<text x="372.80" y="531.40" text-anchor="middle" class="t">78</text>
<text x="406.00" y="531.40" text-anchor="middle" class="t">73</text>
<text x="439.20" y="531.40" text-anchor="middle" class="t">60</text>
<text x="472.40" y="531.40" text-anchor="middle" class="t">51</text>
<text x="505.60" y="531.40" text-anchor="middle" class="t">46</text>
<text x="326.0" y="543.50" text-anchor="end" class="t">No serotherapy:</text>
<text x="339.60" y="543.50" text-anchor="middle" class="t">103</text>
<text x="372.80" y="543.50" text-anchor="middle" class="t">58</text>
<text x="406.00" y="543.50" text-anchor="middle" class="t">53</text>
<text x="439.20" y="543.50" text-anchor="middle" class="t">48</text>
<text x="472.40" y="543.50" text-anchor="middle" class="t">39</text>
<text x="505.60" y="543.50" text-anchor="middle" class="t">24</text>
<text x="7.5" y="17.0" class="L">A</text><text x="266.3" y="17.1" class="L">B</text><text x="7.2" y="288.5" class="L">C</text><text x="266.8" y="288.2" class="L">D</text>
<rect x="0.5" y="0.5" width="519" height="552" fill="none" stroke="#505050" stroke-width="1"/>
</svg>
</body></html>
